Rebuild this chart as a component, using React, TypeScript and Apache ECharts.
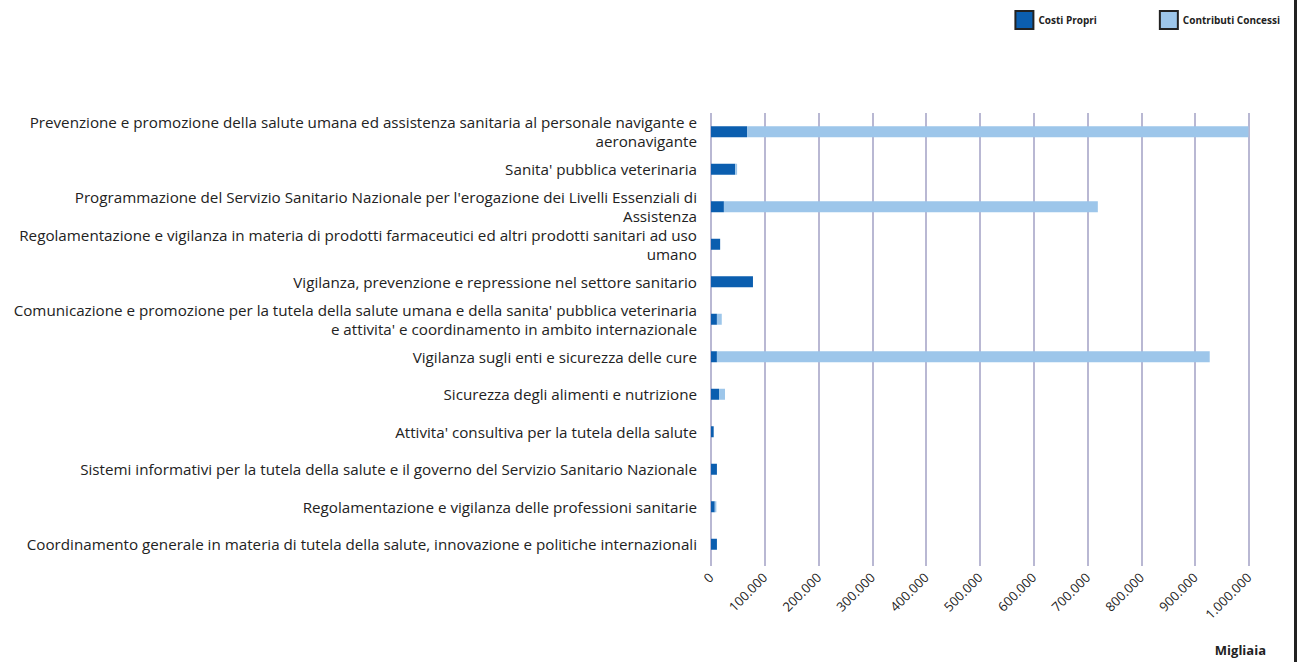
import React, { useEffect, useRef } from "react";
import * as echarts from "echarts";

const categories: string[] = [
  "Prevenzione e promozione della salute umana ed assistenza sanitaria al personale navigante e\naeronavigante",
  "Sanita' pubblica veterinaria",
  "Programmazione del Servizio Sanitario Nazionale per l'erogazione dei Livelli Essenziali di\nAssistenza",
  "Regolamentazione e vigilanza in materia di prodotti farmaceutici ed altri prodotti sanitari ad uso\numano",
  "Vigilanza, prevenzione e repressione nel settore sanitario",
  "Comunicazione e promozione per la tutela della salute umana e della sanita' pubblica veterinaria\ne attivita' e coordinamento in ambito internazionale",
  "Vigilanza sugli enti e sicurezza delle cure",
  "Sicurezza degli alimenti e nutrizione",
  "Attivita' consultiva per la tutela della salute",
  "Sistemi informativi per la tutela della salute e il governo del Servizio Sanitario Nazionale",
  "Regolamentazione e vigilanza delle professioni sanitarie",
  "Coordinamento generale in materia di tutela della salute, innovazione e politiche internazionali",
];

const costiPropri: number[] = [67000, 45000, 24000, 17000, 78000, 11000, 11000, 15000, 5000, 11000, 7000, 11000];
const contributiConcessi: number[] = [932000, 3500, 695000, 0, 0, 9000, 916000, 11000, 0, 0, 3000, 0];

const seriesNames = ["Costi Propri", "Contributi Concessi"];
const axisUnit = "Migliaia";

const fmt = (v: number) => String(v).replace(/\B(?=(\d{3})+(?!\d))/g, ".");

export default function App() {
  const ref = useRef<HTMLDivElement>(null);
  useEffect(() => {
    const chart = echarts.init(ref.current!, null, { renderer: "svg" });
    const font = "'Open Sans', sans-serif";
    chart.setOption({
      animation: false,
      backgroundColor: "#ffffff",
      textStyle: { fontFamily: font },
      legend: {
        right: 12,
        top: 5,
        itemWidth: 18,
        itemHeight: 18,
        itemGap: 62,
        icon: "rect",
        textStyle: { fontSize: 10, fontWeight: "bold", color: "#222", fontFamily: font },
        data: seriesNames.map((n) => ({
          name: n,
          itemStyle: { borderColor: "#222", borderWidth: 2 },
        })),
      },
      grid: { left: 711, right: 48, top: 113, bottom: 99, containLabel: false },
      xAxis: {
        type: "value",
        min: 0,
        max: 1000000,
        interval: 100000,
        axisLine: { show: false },
        axisTick: { show: true, length: 3, lineStyle: { color: "#b9b8d3", width: 2 } },
        splitLine: { show: true, lineStyle: { color: "#b9b8d3", width: 2 } },
        axisLabel: {
          rotate: 45,
          fontSize: 13,
          color: "#222",
          margin: 12,
          formatter: (v: number) => fmt(v),
        },
      },
      yAxis: {
        type: "category",
        inverse: true,
        data: categories,
        axisLine: { show: false },
        axisTick: { show: false },
        axisLabel: {
          fontSize: 15.2,
          color: "#222",
          margin: 14,
          lineHeight: 19,
          align: "right",
        },
      },
      series: [
        {
          name: seriesNames[0],
          type: "bar",
          stack: "tot",
          barWidth: 11,
          itemStyle: { color: "#0b5eaf" },
          data: costiPropri,
        },
        {
          name: seriesNames[1],
          type: "bar",
          stack: "tot",
          barWidth: 11,
          itemStyle: { color: "#9dc6ea" },
          data: contributiConcessi,
        },
      ],
      graphic: [
        {
          type: "text",
          right: 31,
          top: 643,
          style: { text: axisUnit, fontSize: 13, fontWeight: "bold", fill: "#222", fontFamily: font },
        },
        {
          type: "rect",
          left: 1294,
          top: 0,
          shape: { x: 0, y: 0, width: 3, height: 662 },
          style: { fill: "#222" },
        },
      ],
    });
    return () => chart.dispose();
  }, []);
  return (
    <div
      ref={ref}
      style={{ position: "fixed", left: 0, top: 0, width: 1297, height: 662 }}
    />
  );
}
